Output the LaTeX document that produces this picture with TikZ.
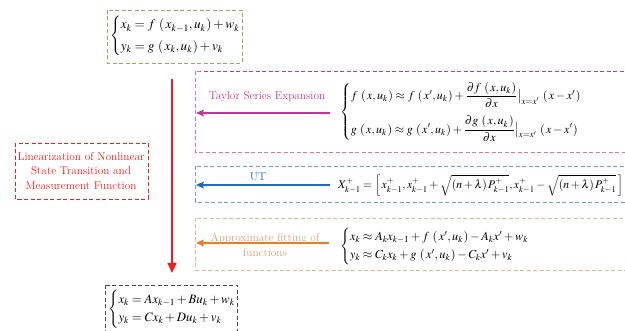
\documentclass[tikz,border=0pt]{standalone}
\usepackage{amsmath,amssymb}
\usepackage{fontspec}
\setmainfont{Liberation Serif}
\usepackage{mathptmx}
\usetikzlibrary{arrows.meta,positioning}
\definecolor{tgreen}{HTML}{8FB04E}
\definecolor{tpink}{HTML}{DE6CC0}
\definecolor{tmag}{HTML}{C8329A}
\definecolor{tblue}{HTML}{5DA3DC}
\definecolor{tdblue}{HTML}{1D6EBF}
\definecolor{torange}{HTML}{F6B07C}
\definecolor{tdorange}{HTML}{EE7A22}
\definecolor{tred}{HTML}{F21B1B}
\newcommand{\pr}[1]{\mkern3mu\left(\mkern2mu#1\mkern1mu\right)}

\begin{document}
\begin{tikzpicture}[x=1pt,y=-1pt,
  dbox/.style={dash pattern=on 4pt off 2.5pt,line width=0.8pt},
  eqn/.style={inner sep=0pt,anchor=west,font=\fontsize{12.3}{15}\selectfont},
  lbl/.style={inner sep=0pt,align=center,font=\fontsize{11.3}{14.5}\selectfont},
  arr/.style={-{Stealth[length=8pt,width=7pt,inset=1.5pt]},line width=1.1pt}]
  \useasboundingbox (0,0) rectangle (625,331);
  % boxes
  \draw[dbox,tgreen] (107,10) rectangle (242,63);
  \draw[dbox,black!70] (105,285) rectangle (237,334);
  \draw[dbox,tpink] (630,71) -- (195,71) -- (195,152) -- (630,152);
  \draw[dbox,tmag] (630,71) -- (200,71);
  \draw[dbox,tblue] (195,166) rectangle (630,202);
  \draw[dbox,torange] (195,218) rectangle (630,270);
  \draw[dbox,tred] (15,143) rectangle (148,199);
  % system equations
  \node[eqn,font=\fontsize{13.2}{15.5}\selectfont] (sys) at (110,36) {$\begin{cases} x_k=f\pr{x_{k-1},u_k}+w_k\\[3pt] y_k=g\pr{x_k,u_k}+v_k\end{cases}$};
  \node[eqn,font=\fontsize{12.8}{15}\selectfont] (lin) at (108,309) {$\begin{cases} x_k=Ax_{k-1}+Bu_k+w_k\\ y_k=Cx_k+Du_k+v_k\end{cases}$};
  \node[lbl,text=tred] (title) at (81,171) {Linearization of Nonlinear\\State Transition and\\Measurement Function};
  % methods
  \node[eqn,font=\fontsize{12}{15}\selectfont] (taylor) at (340,112) {$\begin{cases} f\pr{x,u_k}\approx f\pr{x',u_k}+\dfrac{\partial f\pr{x,u_k}}{\partial x}\big|_{x=x'}\pr{x-x'}\\[11pt] g\pr{x,u_k}\approx g\pr{x',u_k}+\dfrac{\partial g\pr{x,u_k}}{\partial x}\big|_{x=x'}\pr{x-x'}\end{cases}$};
  \node[eqn,font=\fontsize{11.7}{14}\selectfont] (ut) at (338,185) {$X_{k-1}^{+}=\left[\,x_{k-1}^{+},x_{k-1}^{+}+\sqrt{\left(n+\lambda\right)P_{k-1}^{+}},x_{k-1}^{+}-\sqrt{\left(n+\lambda\right)P_{k-1}^{+}}\,\right]$};
  \node[eqn] (fit) at (340,246) {$\begin{cases} x_k\approx A_kx_{k-1}+f\pr{x',u_k}-A_kx'+w_k\\ y_k\approx C_kx_k+g\pr{x',u_k}-C_kx'+v_k\end{cases}$};
  \coordinate (tl) at (196,113); \coordinate (ul) at (196,185); \coordinate (fl) at (196,243);
  \draw[arr,tmag] (taylor.west|-tl) ++(-10,0) -- (tl);
  \draw[arr,tdblue] (ut.west|-ul) ++(-8,0) -- (ul);
  \draw[arr,tdorange] (fit.west|-fl) ++(-11,0) -- (fl);
  \node[lbl,text=tmag] (tlbl) at (267,97) {Taylor Series Expansion};
  \node[lbl,text=tdblue] (ulbl) at (258,177) {UT};
  \node[lbl,text=torange!90!black] (flbl) at (265,245) {Approximate fitting of\\functions};
  % main arrow
  \coordinate (a0) at (172,79); \coordinate (a1) at (172,273);
  \draw[-{Triangle[length=10pt,width=9pt]},line width=1.1pt,tred] (a0) -- (a1);
\end{tikzpicture}
\end{document}
